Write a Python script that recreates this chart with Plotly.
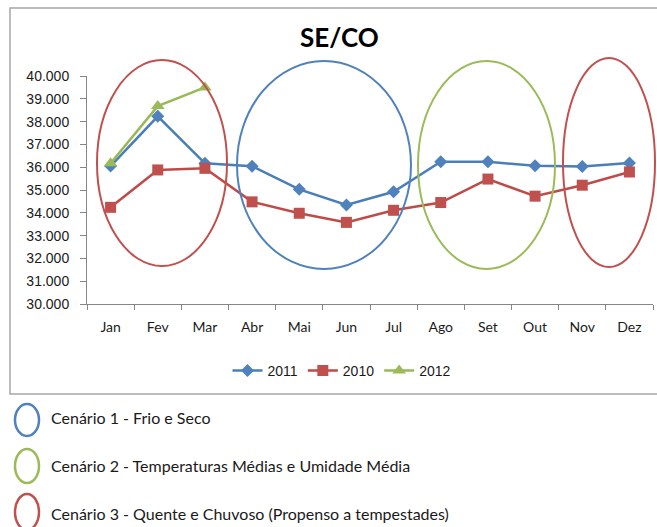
import plotly.graph_objects as go

# Monthly values for the SE/CO region
months = ["Jan", "Fev", "Mar", "Abr", "Mai", "Jun", "Jul", "Ago", "Set", "Out", "Nov", "Dez"]
serie_2011 = [36050, 38230, 36170, 36040, 35030, 34340, 34920, 36240, 36240, 36060, 36030, 36180]
serie_2010 = [34240, 35880, 35950, 34480, 33980, 33580, 34110, 34450, 35480, 34730, 35210, 35790]
serie_2012 = [36170, 38680, 39500]
y_ticks = [30000, 31000, 32000, 33000, 34000, 35000, 36000, 37000, 38000, 39000, 40000]

scenario_labels = [
    "Cenário 1 - Frio e Seco",
    "Cenário 2 - Temperaturas Médias e Umidade Média",
    "Cenário 3 - Quente e Chuvoso (Propenso a tempestades)",
]

BLUE, RED, GREEN = "#4A7EBB", "#BE4B48", "#98B954"
BLUE_F, RED_F, GREEN_F = "#4F81BD", "#C0504D", "#9BBB59"

W, H = 657, 527
ML, MR, MT, MB = 87, 4, 76, 223


def px(x):
    return (x - ML) / (W - ML - MR)


def py(y):
    return (H - MB - y) / (H - MT - MB)


fig = go.Figure()
fig.add_trace(go.Scatter(
    x=months, y=serie_2011, name="2011", mode="lines+markers",
    line=dict(color=BLUE, width=2.5),
    marker=dict(symbol="diamond", size=10, color=BLUE_F, line=dict(width=0)),
))
fig.add_trace(go.Scatter(
    x=months, y=serie_2010, name="2010", mode="lines+markers",
    line=dict(color=RED, width=2.5),
    marker=dict(symbol="square", size=11, color=RED_F, line=dict(width=0)),
))
fig.add_trace(go.Scatter(
    x=months[:len(serie_2012)], y=serie_2012, name="2012", mode="lines+markers",
    line=dict(color=GREEN, width=2.5),
    marker=dict(symbol="triangle-up", size=12, color=GREEN_F, line=dict(width=0)),
))

shapes = []
# chart frame
shapes.append(dict(type="rect", xref="paper", yref="paper",
                   x0=px(10), x1=px(680), y0=py(394), y1=py(8),
                   line=dict(color="#A6A6A6", width=1.5), layer="below"))
# scenario ellipses over the chart
ellipses = [
    (97, 227, 60, 266, RED_F),
    (237, 411, 61, 269, BLUE_F),
    (418, 555, 61, 269, GREEN_F),
    (563, 655, 58, 267, RED_F),
]
for x0, x1, y0, y1, c in ellipses:
    shapes.append(dict(type="circle", xref="paper", yref="paper",
                       x0=px(x0), x1=px(x1), y0=py(y1), y1=py(y0),
                       line=dict(color=c, width=2)))

# scenario key below the chart
key_rows = [(404, 436, 417, BLUE_F), (449, 483, 465, GREEN_F), (494, 530, 513, RED_F)]
annotations = []
for (y0, y1, yc, c), label in zip(key_rows, scenario_labels):
    shapes.append(dict(type="circle", xref="paper", yref="paper",
                       x0=px(15), x1=px(39), y0=py(y1), y1=py(y0),
                       line=dict(color=c, width=2.5)))
    annotations.append(dict(text=label, xref="paper", yref="paper",
                            x=px(49), y=py(yc), xanchor="left", yanchor="middle",
                            showarrow=False,
                            font=dict(family="Lato", size=16, color="#1a1a1a")))

annotations.append(dict(text="<b>SE/CO</b>", xref="paper", yref="paper",
                        x=px(339), y=py(37), xanchor="center", yanchor="middle",
                        showarrow=False,
                        font=dict(family="Lato", size=26, color="#000000")))

fig.update_layout(
    width=W, height=H,
    margin=dict(l=ML, r=MR, t=MT, b=MB, pad=0),
    paper_bgcolor="white", plot_bgcolor="white",
    separators=",.",
    showlegend=True,
    legend=dict(orientation="h", x=px(342), y=py(371), xanchor="center", yanchor="middle",
                font=dict(family="Liberation Sans", size=14, color="#1a1a1a"),
                itemwidth=30, traceorder="normal", bgcolor="rgba(0,0,0,0)"),
    shapes=shapes,
    annotations=annotations,
    xaxis=dict(
        type="category", range=[-0.5, 11.5],
        showline=True, linecolor="#868686", linewidth=1,
        ticks="outside", ticklen=5, tickcolor="#868686", tickson="boundaries",
        showgrid=False, zeroline=False,
        ticklabelstandoff=10,
        tickfont=dict(family="Lato", size=14, color="#1a1a1a"),
    ),
    yaxis=dict(
        range=[30000, 40000], tickvals=y_ticks, tickformat=",d",
        showline=True, linecolor="#868686", linewidth=1,
        ticks="outside", ticklen=6, tickcolor="#868686",
        showgrid=False, zeroline=False,
        ticklabelstandoff=8,
        tickfont=dict(family="Liberation Sans", size=14, color="#1a1a1a"),
    ),
)

fig.write_html("out.html")
